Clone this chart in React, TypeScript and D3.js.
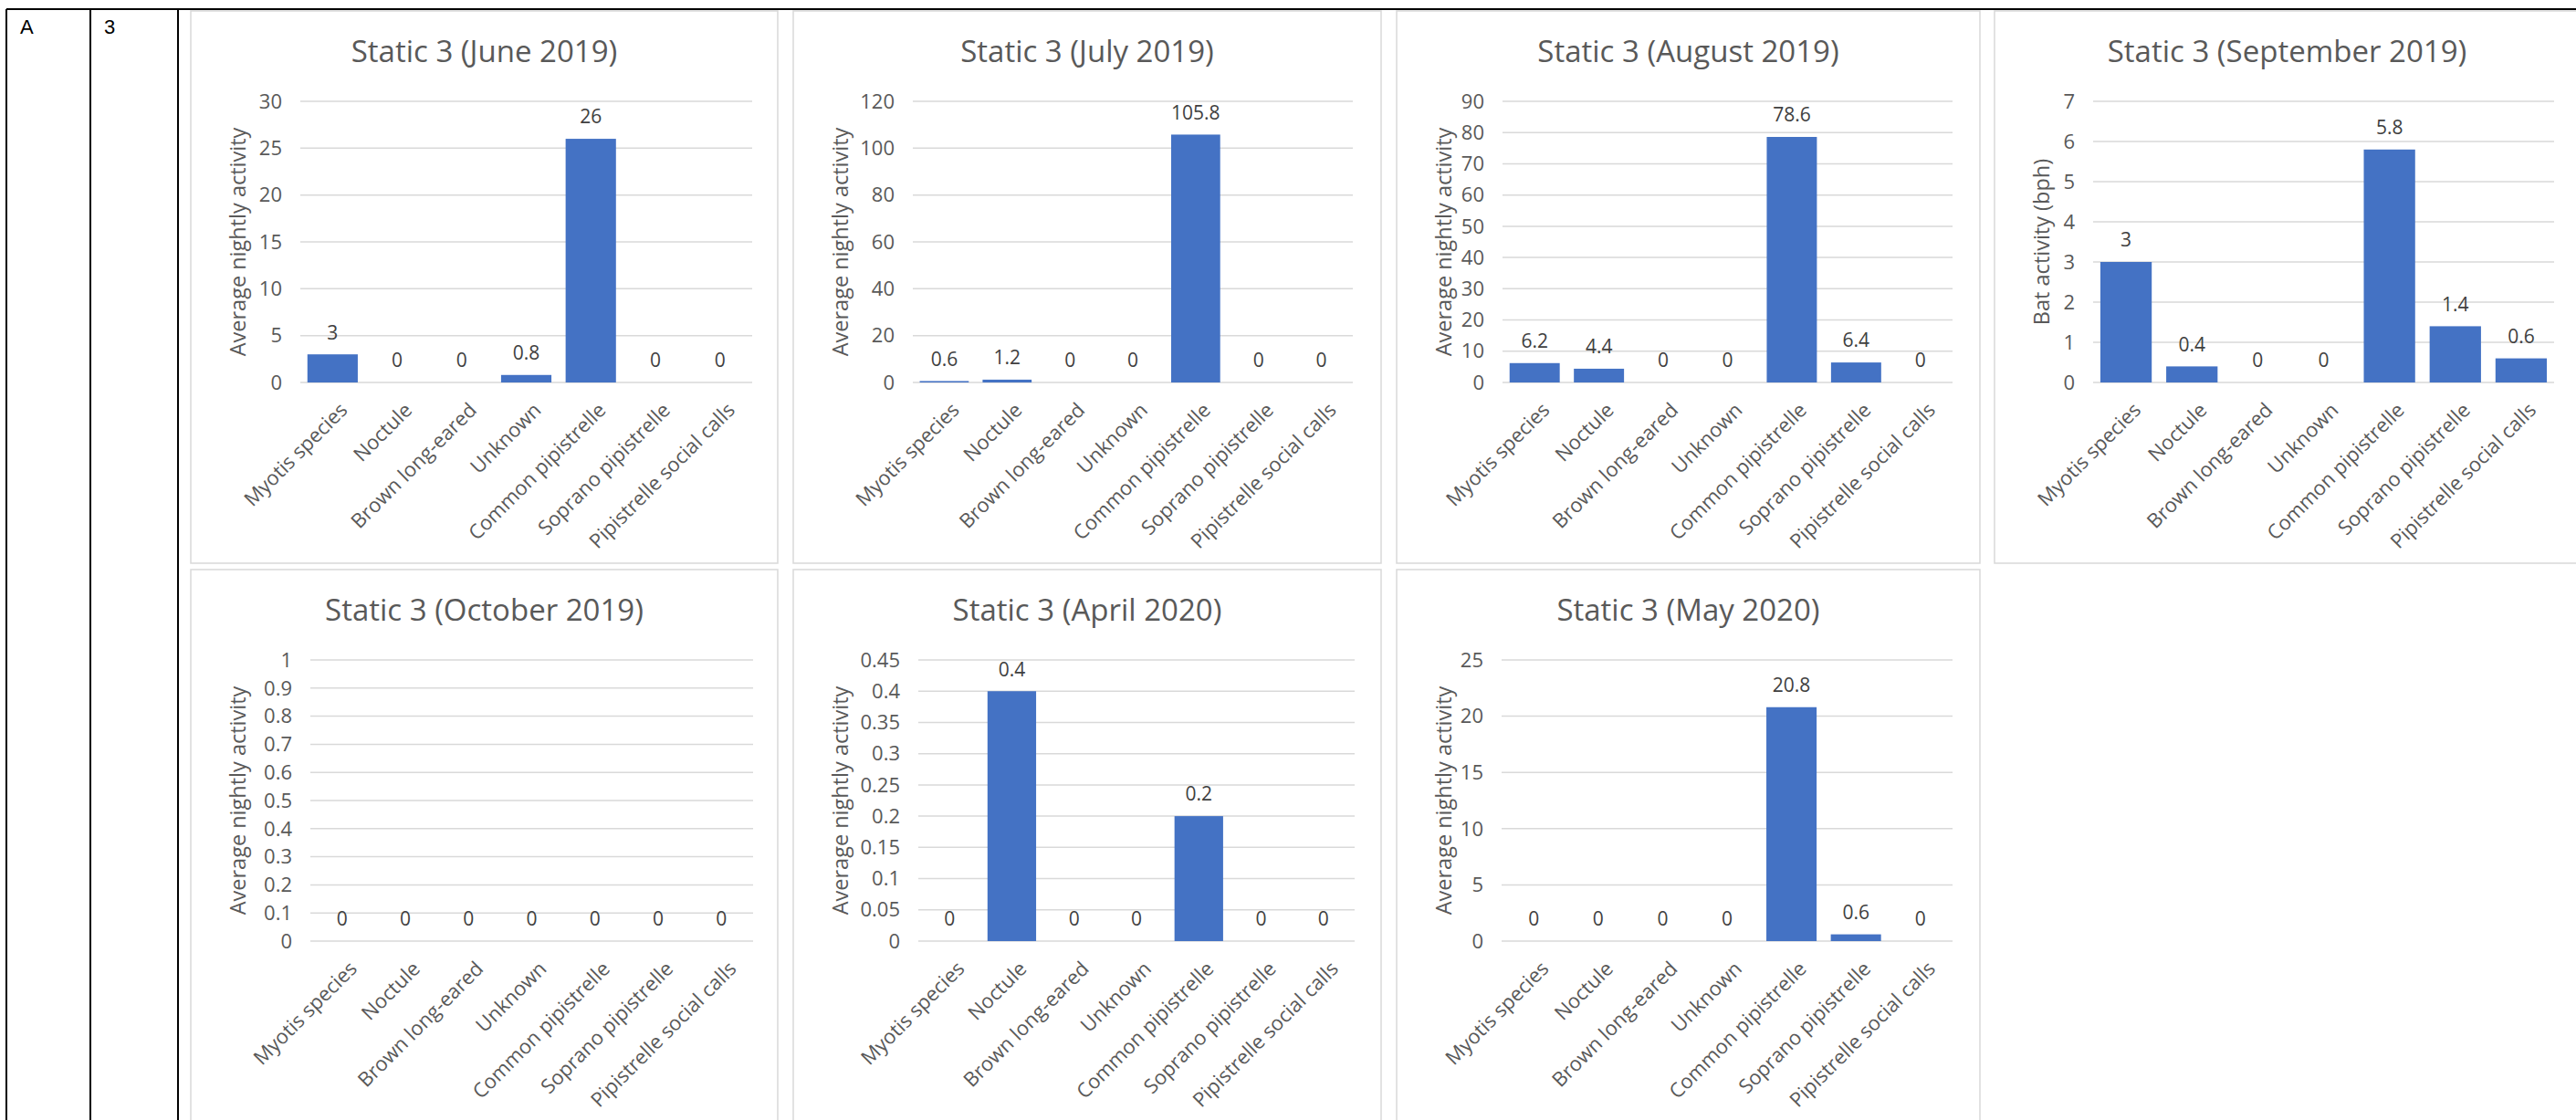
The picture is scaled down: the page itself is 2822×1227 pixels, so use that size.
import * as d3 from "d3";

const categories = [
  "Myotis species",
  "Noctule",
  "Brown long-eared",
  "Unknown",
  "Common pipistrelle",
  "Soprano pipistrelle",
  "Pipistrelle social calls",
];

const june2019 = [3, 0, 0, 0.8, 26, 0, 0];
const july2019 = [0.6, 1.2, 0, 0, 105.8, 0, 0];
const august2019 = [6.2, 4.4, 0, 0, 78.6, 6.4, 0];
const september2019 = [3, 0.4, 0, 0, 5.8, 1.4, 0.6];
const october2019 = [0, 0, 0, 0, 0, 0, 0];
const april2020 = [0, 0.4, 0, 0, 0.2, 0, 0];
const may2020 = [0, 0, 0, 0, 20.8, 0.6, 0];

const titles = [
  "Static 3 (June 2019)",
  "Static 3 (July 2019)",
  "Static 3 (August 2019)",
  "Static 3 (September 2019)",
  "Static 3 (October 2019)",
  "Static 3 (April 2020)",
  "Static 3 (May 2020)",
];
const yTitles = [
  "Average nightly activity",
  "Average nightly activity",
  "Average nightly activity",
  "Bat activity (bph)",
  "Average nightly activity",
  "Average nightly activity",
  "Average nightly activity",
];
const yMax = [30, 120, 90, 7, 1, 0.45, 25];
const yStep = [5, 20, 10, 1, 0.1, 0.05, 5];
const series = [june2019, july2019, august2019, september2019, october2019, april2020, may2020];

// layout only (panel frames and plot insets)
const cols = [
  [209, 852],
  [869, 1513],
  [1530, 2169],
  [2185, 2826],
];
const rows = [
  [12, 617],
  [624, 1240],
];
const insetLeft = [120, 131, 116, 108, 131, 137, 115];
const insetRight = [28, 31, 30, 28, 27, 29, 30];

const FONT = "'Open Sans', sans-serif";
const BLUE = "#4472C4";
const GRID = "#D9D9D9";
const TEXT = "#595959";

const fmt = (v: number) => String(+v.toFixed(4));

function Panel({ i }: { i: number }) {
  const col = i < 4 ? i : i - 4;
  const row = i < 4 ? 0 : 1;
  const [x0, x1] = cols[col];
  const [y0, y1] = rows[row];
  const plotTop = y0 + 99;
  const plotBottom = y0 + 407;
  const left = x0 + insetLeft[i];
  const right = x1 - insetRight[i];

  const x = d3.scaleBand<string>().domain(categories).range([left, right]).paddingInner(0.22).paddingOuter(0.11);
  const y = d3.scaleLinear().domain([0, yMax[i]]).range([plotBottom, plotTop]);
  const ticks = d3.range(0, yMax[i] + yStep[i] / 2, yStep[i]);
  const values = series[i];

  return (
    <g>
      <rect x={x0} y={y0} width={x1 - x0} height={y1 - y0} fill="#fff" stroke={GRID} strokeWidth={1.5} />
      <text x={(x0 + x1) / 2} y={y0 + 56} textAnchor="middle" fontSize={33} fill={TEXT} fontFamily={FONT}>
        {titles[i]}
      </text>
      {ticks.map((t) => (
        <g key={t}>
          <line x1={left} x2={right} y1={y(t)} y2={y(t)} stroke={GRID} strokeWidth={1.5} />
          <text x={left - 20} y={y(t)} dy="0.35em" textAnchor="end" fontSize={22} fill={TEXT} fontFamily={FONT}>
            {fmt(t)}
          </text>
        </g>
      ))}
      <text
        transform={`translate(${x0 + 52},${(plotTop + plotBottom) / 2}) rotate(-90)`}
        textAnchor="middle"
        dy="0.35em"
        fontSize={23.5}
        fill={TEXT}
        fontFamily={FONT}
      >
        {yTitles[i]}
      </text>
      {categories.map((c, k) => {
        const v = values[k];
        const bx = x(c)!;
        const cx = bx + x.bandwidth() / 2;
        return (
          <g key={c}>
            {v > 0 && <rect x={bx} y={y(v)} width={x.bandwidth()} height={plotBottom - y(v)} fill={BLUE} />}
            <text x={cx} y={y(v) - 24} dy="0.35em" textAnchor="middle" fontSize={21} fill="#404040" fontFamily={FONT}>
              {fmt(v)}
            </text>
            <text
              transform={`translate(${cx + 6},${plotBottom + 20}) rotate(-45)`}
              dy="0.75em"
              textAnchor="end"
              fontSize={22}
              fill={TEXT}
              fontFamily={FONT}
            >
              {c}
            </text>
          </g>
        );
      })}
    </g>
  );
}

export default function App() {
  const W = 2822;
  const H = 1227;
  return (
    <svg width={W} height={H} style={{ position: "absolute", left: 0, top: 0, background: "#fff" }}>
      <rect width={W} height={H} fill="#fff" />
      {/* table frame */}
      <line x1={7} x2={W} y1={10} y2={10} stroke="#000" strokeWidth={2} />
      {[7, 99, 195].map((lx) => (
        <line key={lx} x1={lx} x2={lx} y1={10} y2={H} stroke="#000" strokeWidth={2} />
      ))}
      <text x={22} y={37} fontSize={22} fontFamily="'Liberation Sans', Arial, sans-serif">A</text>
      <text x={114} y={37} fontSize={22} fontFamily="'Liberation Sans', Arial, sans-serif">3</text>
      {series.map((_, i) => (
        <Panel key={i} i={i} />
      ))}
    </svg>
  );
}
